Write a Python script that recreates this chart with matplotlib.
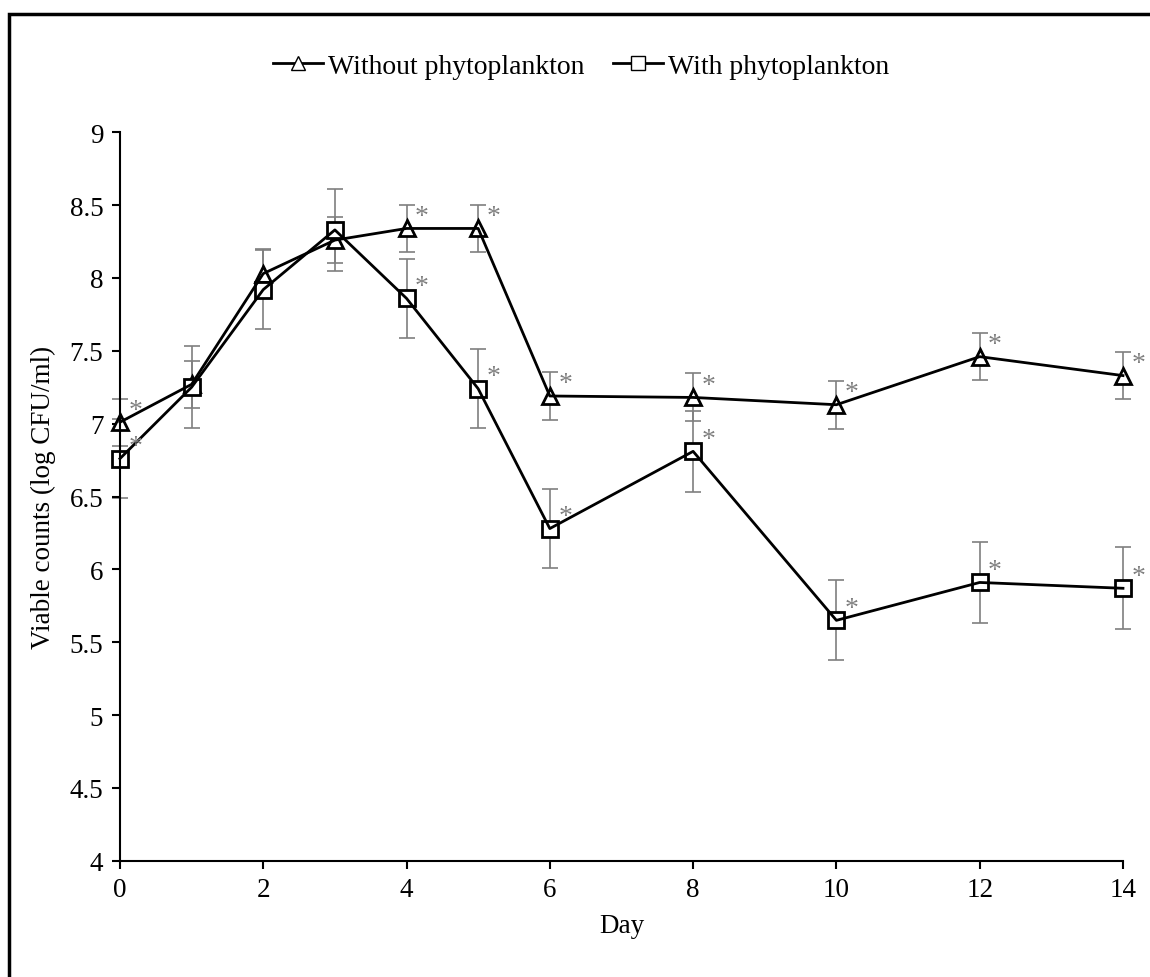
import matplotlib
matplotlib.use("Agg")
import matplotlib.pyplot as plt
from matplotlib.lines import Line2D
from matplotlib.patches import Rectangle

plt.rcParams['font.family'] = ['Liberation Serif', 'DejaVu Serif']

# data
days = [0, 1, 2, 3, 4, 5, 6, 8, 10, 12, 14]
without_phyto = [7.01, 7.27, 8.03, 8.26, 8.34, 8.34, 7.19, 7.18, 7.13, 7.46, 7.33]
without_err = [0.16, 0.16, 0.17, 0.16, 0.16, 0.16, 0.165, 0.165, 0.165, 0.16, 0.16]
with_phyto = [6.76, 7.25, 7.92, 8.33, 7.86, 7.24, 6.28, 6.81, 5.65, 5.91, 5.87]
with_err = [0.27, 0.28, 0.27, 0.28, 0.27, 0.27, 0.27, 0.28, 0.275, 0.275, 0.28]
# days flagged with an asterisk
star_days = [0, 4, 5, 6, 8, 10, 12, 14]

fig = plt.figure(figsize=(11.5, 9.78), dpi=100)
ax = fig.add_axes([0.1043, 0.1189, 0.8722, 0.7448])

grey = '#7f7f7f'
for y, e in [(without_phyto, without_err), (with_phyto, with_err)]:
    eb = ax.errorbar(days, y, yerr=e, fmt='none', ecolor=grey, elinewidth=1.2,
                     capsize=6, capthick=1.2, zorder=1)
    for art in eb.lines[1] + eb.lines[2]:
        art.set_clip_on(False)

ax.plot(days, without_phyto, ls='none', marker='^', ms=12, mfc='white',
        mec='black', mew=2, zorder=2, clip_on=False)
ax.plot(days, with_phyto, ls='none', marker='s', ms=12, mfc='white',
        mec='black', mew=2, zorder=2, clip_on=False)
ax.plot(days, without_phyto, color='black', lw=2, zorder=3, clip_on=False)
ax.plot(days, with_phyto, color='black', lw=2, zorder=3, clip_on=False)

for series in [without_phyto, with_phyto]:
    for d, v in zip(days, series):
        if d in star_days:
            ax.annotate('*', (d, v), xytext=(11, 4), textcoords='offset points',
                        ha='center', va='baseline', fontsize=20, color=grey,
                        annotation_clip=False)

ax.set_xlim(0, 14)
ax.set_ylim(4, 9)
ax.set_xticks(range(0, 15, 2))
ax.set_yticks([4, 4.5, 5, 5.5, 6, 6.5, 7, 7.5, 8, 8.5, 9])
ax.set_yticklabels(['4', '4.5', '5', '5.5', '6', '6.5', '7', '7.5', '8', '8.5', '9'])
ax.tick_params(direction='out', length=6, width=1.5, labelsize=19.5, pad=6)
for s in ['top', 'right']:
    ax.spines[s].set_visible(False)
for s in ['left', 'bottom']:
    ax.spines[s].set_linewidth(1.5)
ax.set_xlabel('Day', fontsize=19.5, labelpad=8)
ax.set_ylabel('Viable counts (log CFU/ml)', fontsize=19.5, labelpad=10)

handles = [
    Line2D([], [], color='black', lw=2, marker='^', ms=10, mfc='white', mec='black', mew=1),
    Line2D([], [], color='black', lw=2, marker='s', ms=10, mfc='white', mec='black', mew=1),
]
fig.legend(handles, ['Without phytoplankton', 'With phytoplankton'], loc='center',
           bbox_to_anchor=(581 / 1150, 1 - 67 / 978), ncol=2, frameon=False,
           fontsize=20, handlelength=1.8, handletextpad=0.2, columnspacing=1.0)

# outer chart frame
fig.patches.append(Rectangle((9 / 1150, -0.1), 1.2, 1.1 - 15 / 978, fill=False,
                             edgecolor='black', lw=2.5, transform=fig.transFigure))

fig.savefig('out.png', dpi=100)
